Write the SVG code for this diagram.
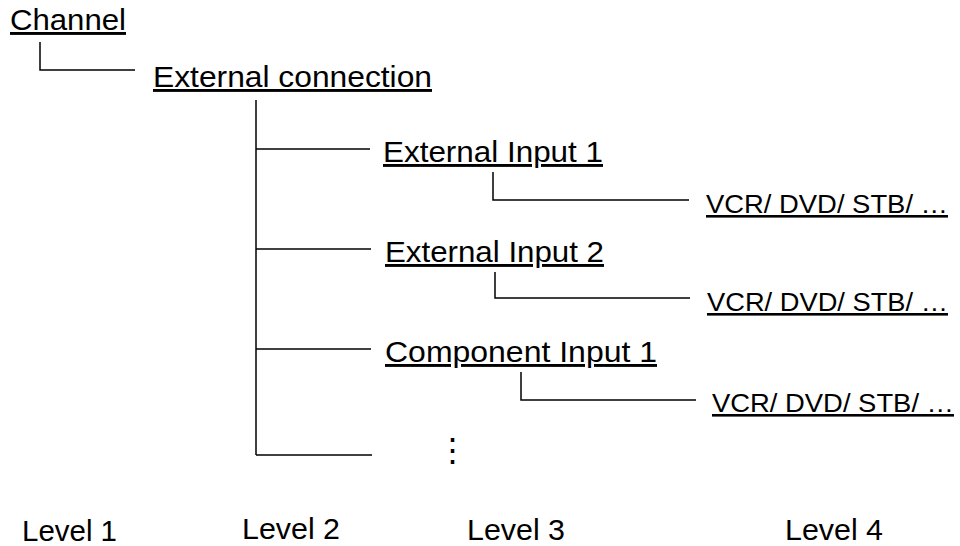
<svg xmlns="http://www.w3.org/2000/svg" width="960" height="546" viewBox="0 0 960 546">
<style>
text{font-family:"Liberation Sans",Arial,sans-serif;font-size:29px;fill:#000}
.u{text-decoration:underline}
.v{font-size:26px}
.c line,.c path{stroke:#000;stroke-width:1.5;fill:none}
</style>
<rect width="960" height="546" fill="#fff"/>
<g class="c" id="connectors">
<path d="M40 42V70H135"/>
<path d="M256 100V455"/>
<line x1="256" y1="149" x2="370" y2="149"/>
<line x1="256" y1="249" x2="371" y2="249"/>
<line x1="256" y1="349" x2="371" y2="349"/>
<line x1="256" y1="455" x2="372" y2="455"/>
<path d="M493 172V200H689"/>
<path d="M495 272V298H690"/>
<path d="M521 372V400H696"/>
</g>
<g id="n-channel"><text class="u" x="10" y="30" textLength="116" lengthAdjust="spacingAndGlyphs">Channel</text></g>
<g id="n-extconn"><text class="u" x="153" y="87" textLength="279" lengthAdjust="spacingAndGlyphs">External connection</text></g>
<g id="n-ext1"><text class="u" x="383" y="162" textLength="220" lengthAdjust="spacingAndGlyphs">External Input 1</text></g>
<g id="n-vcr1"><text class="u v" x="706" y="213" textLength="242" lengthAdjust="spacingAndGlyphs">VCR/ DVD/ STB/ …</text></g>
<g id="n-ext2"><text class="u" x="385" y="262" textLength="219" lengthAdjust="spacingAndGlyphs">External Input 2</text></g>
<g id="n-vcr2"><text class="u v" x="707" y="311" textLength="241" lengthAdjust="spacingAndGlyphs">VCR/ DVD/ STB/ …</text></g>
<g id="n-comp1"><text class="u" x="385" y="362" textLength="272" lengthAdjust="spacingAndGlyphs">Component Input 1</text></g>
<g id="n-vcr3"><text class="u v" x="712" y="412" textLength="242" lengthAdjust="spacingAndGlyphs">VCR/ DVD/ STB/ …</text></g>
<g id="n-more"><text x="452" y="462" text-anchor="middle" style="font-size:33px">⋮</text></g>
<g id="levels">
<text x="22" y="541" textLength="95" lengthAdjust="spacingAndGlyphs">Level 1</text>
<text x="242" y="539" textLength="98" lengthAdjust="spacingAndGlyphs">Level 2</text>
<text x="467" y="540" textLength="98" lengthAdjust="spacingAndGlyphs">Level 3</text>
<text x="785" y="540" textLength="98" lengthAdjust="spacingAndGlyphs">Level 4</text>
</g>
</svg>
